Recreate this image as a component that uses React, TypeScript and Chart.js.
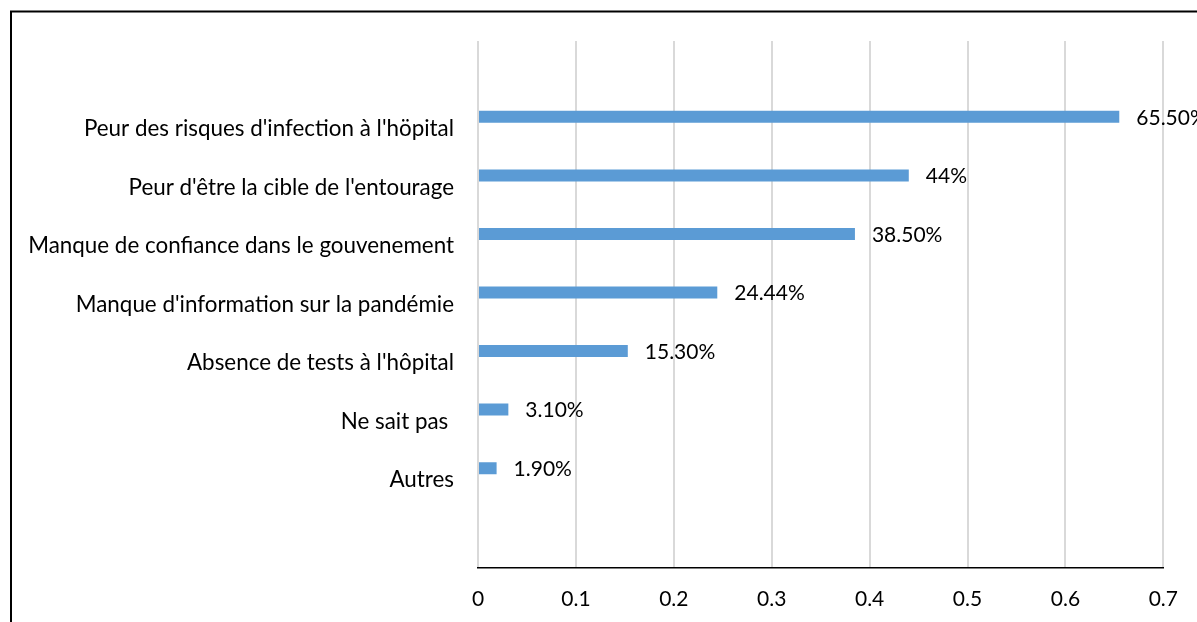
import React, { useEffect, useRef } from "react";
import { Chart, registerables } from "chart.js";

Chart.register(...registerables);

const categories = [
  "Peur des risques d'infection à l'höpital",
  "Peur d'être la cible de l'entourage",
  "Manque de confiance dans le gouvenement",
  "Manque d'information sur la pandémie",
  "Absence de tests à l'hôpital",
  "Ne sait pas ",
  "Autres",
];
const values = [0.655, 0.44, 0.385, 0.2444, 0.153, 0.031, 0.019];
const valueLabels = ["65.50%", "44%", "38.50%", "24.44%", "15.30%", "3.10%", "1.90%"];
const xTickLabels = ["0", "0.1", "0.2", "0.3", "0.4", "0.5", "0.6", "0.7"];

const FONT = "Lato";
const CAT_FONT_SIZE = 22.4;
const NUM_FONT_SIZE = 21;
const BAR_COLOR = "#5b9bd5";

export default function App() {
  const ref = useRef<HTMLCanvasElement | null>(null);

  useEffect(() => {
    if (!ref.current) return;
    // blank categories above and below (empty slots on the category axis)
    const labels = ["", ...categories, ""];
    const data = [null, ...values, null];
    const dataLabels = ["", ...valueLabels, ""];

    const framePlugin = {
      id: "frame",
      beforeDraw(chart: any) {
        const ctx = chart.ctx;
        ctx.save();
        ctx.fillStyle = "#ffffff";
        ctx.fillRect(0, 0, chart.width, chart.height);
        ctx.strokeStyle = "#000000";
        ctx.lineWidth = 2;
        ctx.beginPath();
        ctx.moveTo(11, chart.height + 5);
        ctx.lineTo(11, 11.5);
        ctx.lineTo(chart.width + 5, 11.5);
        ctx.stroke();
        ctx.restore();
      },
    };

    const labelPlugin = {
      id: "valueLabels",
      afterDatasetsDraw(chart: any) {
        const ctx = chart.ctx;
        const meta = chart.getDatasetMeta(0);
        ctx.save();
        ctx.font = `${NUM_FONT_SIZE}px ${FONT}`;
        ctx.fillStyle = "#000000";
        ctx.textAlign = "left";
        ctx.textBaseline = "middle";
        meta.data.forEach((bar: any, i: number) => {
          const t = dataLabels[i];
          if (!t) return;
          ctx.fillText(t, bar.x + 17, bar.y + 1);
        });
        ctx.restore();
      },
    };

    const chart = new Chart(ref.current, {
      type: "bar",
      data: {
        labels,
        datasets: [
          {
            data,
            backgroundColor: BAR_COLOR,
            borderWidth: 0,
            categoryPercentage: 0.82,
            barPercentage: 0.5,
          },
          {
            data: labels.map(() => null),
            backgroundColor: BAR_COLOR,
            borderWidth: 0,
            categoryPercentage: 0.82,
            barPercentage: 0.5,
          },
        ],
      },
      options: {
        indexAxis: "y",
        animation: false,
        responsive: false,
        layout: { padding: { left: 0, top: 41, right: 31, bottom: 0 } },
        plugins: { legend: { display: false }, tooltip: { enabled: false } },
        scales: {
          x: {
            type: "linear",
            min: 0,
            max: 0.7,
            ticks: {
              stepSize: 0.1,
              padding: 19,
              color: "#000000",
              font: { family: FONT, size: NUM_FONT_SIZE },
              callback: (_v: any, i: number) => xTickLabels[i],
            },
            grid: { color: "#d9d9d9", lineWidth: 2, drawTicks: false },
            border: { display: true, color: "#000000", width: 1.5 },
            afterFit: (s: any) => {
              s.height = 54;
            },
          },
          y: {
            type: "category",
            grid: { display: false, drawTicks: false },
            border: { display: false },
            ticks: {
              padding: 24,
              color: "#000000",
              autoSkip: false,
              font: { family: FONT, size: CAT_FONT_SIZE },
            },
            afterFit: (s: any) => {
              s.width = 478;
            },
          },
        },
      } as any,
      plugins: [framePlugin, labelPlugin],
    });
    return () => chart.destroy();
  }, []);

  return (
    <div style={{ position: "fixed", left: 0, top: 0, width: 1197, height: 622, background: "#fff" }}>
      <canvas ref={ref} width={1197} height={622} style={{ display: "block" }} />
    </div>
  );
}
